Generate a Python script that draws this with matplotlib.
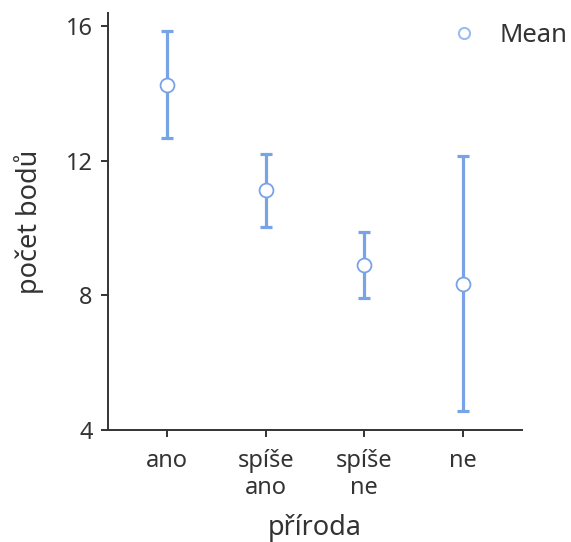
import matplotlib
matplotlib.use("Agg")
import matplotlib.pyplot as plt
from matplotlib.lines import Line2D

categories = ["ano", "spíše\nano", "spíše\nne", "ne"]
means = [14.27, 11.13, 8.90, 8.34]
upper = [15.85, 12.22, 9.88, 12.14]
lower = [12.68, 10.03, 7.92, 4.56]
yticks = [4, 8, 12, 16]

plt.rcParams['font.family'] = ['Noto Sans', 'DejaVu Sans']
blue = "#78a3e6"
dark = "#333333"

fig = plt.figure(figsize=(5.71, 5.42), dpi=100)
ax = fig.add_axes([108/571, 1-430/542, (522-108)/571, (430-13)/542])

x = list(range(len(categories)))
yerr = [[m - l for m, l in zip(means, lower)], [u - m for m, u in zip(means, upper)]]
ax.errorbar(x, means, yerr=yerr, fmt='none', ecolor=blue, elinewidth=2.3,
            capsize=4.5, capthick=2.3, zorder=2)
ax.plot(x, means, 'o', markersize=10, markerfacecolor='white',
        markeredgecolor=blue, markeredgewidth=1.3, zorder=3)

ax.set_xlim(-0.6, 3.6)
ax.set_ylim(4, 16.4)
ax.set_xticks(x)
ax.set_xticklabels(categories, color=dark, fontsize=17, linespacing=1.15)
ax.set_yticks(yticks)
ax.set_yticklabels([str(t) for t in yticks], color=dark, fontsize=17)
ax.tick_params(direction='out', length=5, width=1.4, color=dark, pad=6)
ax.tick_params(axis='x', pad=9)
for s in ['top', 'right']:
    ax.spines[s].set_visible(False)
for s in ['left', 'bottom']:
    ax.spines[s].set_color(dark)
    ax.spines[s].set_linewidth(1.4)

ax.set_xlabel("příroda", fontsize=19.5, color=dark, labelpad=10)
ax.set_ylabel("počet bodů", fontsize=19.5, color=dark, labelpad=16)

handle = Line2D([], [], marker='o', linestyle='none', markersize=8,
                markerfacecolor='white', markeredgecolor="#9bbcf0", markeredgewidth=1.5)
fig.legend([handle], ["Mean"], loc='upper right', bbox_to_anchor=(1.035, 1.0),
           frameon=False, fontsize=18.5, handlelength=1.0, handletextpad=0.9,
           labelcolor=dark)

fig.savefig("out.png", dpi=100)
